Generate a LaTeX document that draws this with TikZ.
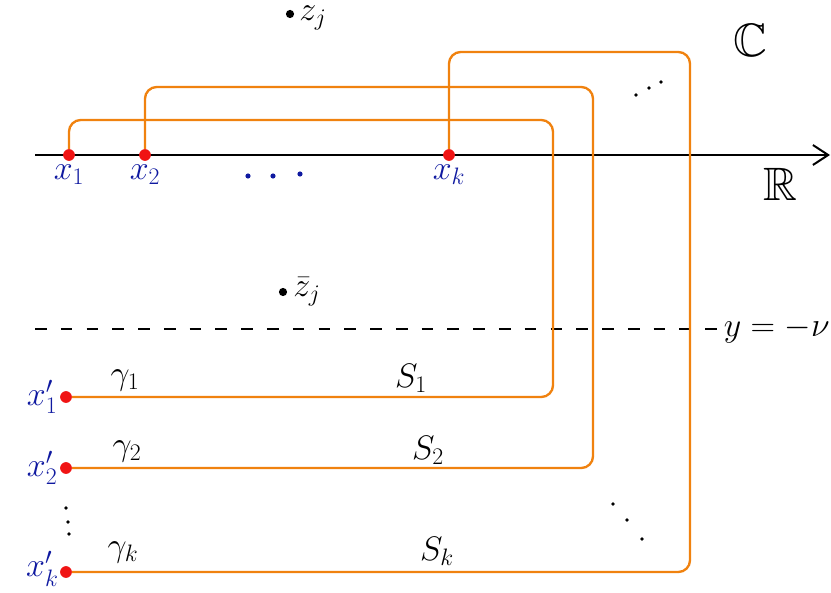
\RequirePackage{fix-cm}
\documentclass[tikz,border=0pt]{standalone}
\usepackage{xcolor}
\definecolor{pathorange}{RGB}{240,130,15}
\definecolor{pointred}{RGB}{240,20,20}
\definecolor{labelblue}{RGB}{15,25,160}
\usepackage{tikz}
\usetikzlibrary{arrows.meta,positioning}
\usepackage{amsmath}
\usepackage{amssymb}
\newcommand{\handsize}{\fontsize{29}{32}\selectfont}
\newcommand{\setsize}{\fontsize{40}{44}\selectfont}

\begin{document}
\begin{tikzpicture}[
  x=0.03cm, y=-0.03cm,
  redpt/.style={circle,fill=pointred,inner sep=0pt,minimum size=10pt},
  zpt/.style={circle,fill=black,inner sep=0pt,minimum size=7pt},
  lab/.style={font=\handsize\color{labelblue},inner sep=1pt},
  tag/.style={font=\handsize,inner sep=1pt},
  contour/.style={draw=pathorange,line width=2pt,rounded corners=0.35cm},
  axis/.style={-{Straight Barb[length=13pt,width=17pt]},line width=1.7pt}
]
  \useasboundingbox (0,0) rectangle (831,593);
  % real axis and the line y=-nu
  \draw[axis] (35,155) -- (830,155);
  \coordinate (dashend) at (730,329);
  \draw[line width=1.4pt,dash pattern=on 10pt off 12pt] (35,329) -- (dashend);
  \node[tag,anchor=east] at (831,330) {$y=-\nu$};
  \node[tag,font=\setsize] at (750,40) {$\mathbb{C}$};
  \node[tag,font=\setsize] at (780,184) {$\mathbb{R}$};
  % points on R and their copies
  \node[redpt] (x1) at (69,155) {};
  \node[redpt] (x2) at (145,155) {};
  \node[redpt] (xk) at (449,155) {};
  \node[redpt] (p1) at (66,397) {};
  \node[redpt] (p2) at (66,468) {};
  \node[redpt] (pk) at (66,572) {};
  \node[lab,below=2pt of x1] {$x_1$};
  \node[lab,below=2pt of x2] {$x_2$};
  \node[lab,below=2pt of xk] {$x_k$};
  \node[lab,left=1pt of p1] {$x_1'$};
  \node[lab,left=1pt of p2] {$x_2'$};
  \node[lab,left=0pt of pk,yshift=3pt] {$x_k'$};
  % contours
  \draw[contour] (x1) |- (553,120) |- (p1);
  \draw[contour] (x2) |- (593,87) |- (p2);
  \draw[contour] (xk) |- (690,52) |- (pk);
  \node[tag] at (125,380) {$\gamma_1$};
  \node[tag] at (127,451) {$\gamma_2$};
  \node[tag] at (123,552) {$\gamma_k$};
  \node[tag] at (411,378) {$S_1$};
  \node[tag] at (428,450) {$S_2$};
  \node[tag] at (437,551) {$S_k$};
  % z_j and its conjugate
  \node[zpt] (zj) at (290,14) {};
  \node[tag,anchor=west] at (298,18) {$z_j$};
  \node[zpt] (zb) at (283,292) {};
  \node[tag,right=4pt of zb] {$\bar z_j$};
  % dots
  \foreach \px/\py in {248/176,273/176,300/174}
    \fill[labelblue] (\px,\py) circle (2.2pt);
  \foreach \px/\py in {66/508,68/522,69/534,613/504,627/520,642/539,636/95,649/88,661/82}
    \fill (\px,\py) circle (1.6pt);
\end{tikzpicture}
\end{document}
